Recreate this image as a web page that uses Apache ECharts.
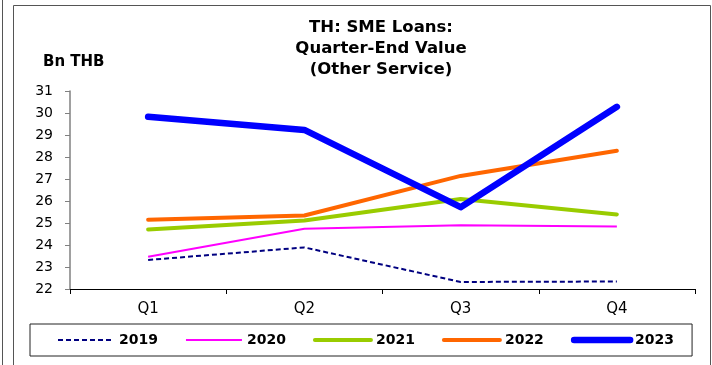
<!DOCTYPE html>
<html>
<head>
<meta charset="utf-8">
<script src="https://cdn.jsdelivr.net/npm/echarts@6/dist/echarts.min.js"></script>
<style>
  html, body { margin: 0; padding: 0; background: #fff; }
  #chart { width: 712px; height: 365px; }
</style>
</head>
<body>
<div id="chart"></div>
<script>
// Quarter-end SME loan balances, other service sector (Bn THB)
const quarters = ['Q1', 'Q2', 'Q3', 'Q4'];
const years = ['2019', '2020', '2021', '2022', '2023'];
const v2019 = [23.32, 23.89, 22.32, 22.34];
const v2020 = [23.47, 24.74, 24.90, 24.84];
const v2021 = [24.71, 25.11, 26.09, 25.39];
const v2022 = [25.15, 25.34, 27.14, 28.28];
const v2023 = [29.83, 29.23, 25.72, 30.28];
const yTicks = [22, 23, 24, 25, 26, 27, 28, 29, 30, 31];

const FONT = 'DejaVu Sans';

const seriesDefs = [
  { name: years[0], data: v2019, color: '#000080', width: 2, type: [5, 3], cap: 'butt' },
  { name: years[1], data: v2020, color: '#FF00FF', width: 2, type: 'solid', cap: 'butt' },
  { name: years[2], data: v2021, color: '#99CC00', width: 4, type: 'solid', cap: 'round' },
  { name: years[3], data: v2022, color: '#FF6600', width: 4, type: 'solid', cap: 'round' },
  { name: years[4], data: v2023, color: '#0000FF', width: 6.5, type: 'solid', cap: 'round' }
];

const chart = echarts.init(document.getElementById('chart'), null, { renderer: 'canvas' });

chart.setOption({
  animation: false,
  backgroundColor: '#ffffff',
  grid: { left: 70, right: 17, top: 91, bottom: 76, containLabel: false },
  graphic: [
    // outer frame
    { type: 'line', shape: { x1: 2.5, y1: 0, x2: 2.5, y2: 365 }, style: { stroke: '#555', lineWidth: 1 } },
    { type: 'polyline', shape: { points: [[13.5, 366], [13.5, 5.5], [710.5, 5.5], [710.5, 366]] },
      style: { stroke: '#555', lineWidth: 1, fill: null } },
    // title
    { type: 'text', x: 381, y: 28, style: { text: 'TH: SME Loans:', font: 'bold 16.5px ' + FONT, fill: '#000', textAlign: 'center', textVerticalAlign: 'middle' } },
    { type: 'text', x: 381, y: 49, style: { text: 'Quarter-End Value', font: 'bold 16.5px ' + FONT, fill: '#000', textAlign: 'center', textVerticalAlign: 'middle' } },
    { type: 'text', x: 381, y: 70, style: { text: '(Other Service)', font: 'bold 16.5px ' + FONT, fill: '#000', textAlign: 'center', textVerticalAlign: 'middle' } },
    // unit label
    { type: 'text', x: 43, y: 62, style: { text: 'Bn THB', font: 'bold 15px ' + FONT, fill: '#000', textAlign: 'left', textVerticalAlign: 'middle' } }
  ],
  legend: {
    left: 30,
    top: 324,
    padding: [9, 18, 9, 27],
    borderColor: '#222',
    borderWidth: 1,
    itemWidth: 56,
    itemHeight: 14,
    itemGap: 27,
    itemStyle: { opacity: 0 },
    lineStyle: { width: 'inherit', type: 'inherit', cap: 'inherit' },
    textStyle: { fontFamily: FONT, fontWeight: 'bold', fontSize: 14, color: '#000' },
    data: years
  },
  xAxis: {
    type: 'category',
    data: quarters,
    boundaryGap: true,
    axisLine: { lineStyle: { color: '#000', width: 1 } },
    axisTick: { show: true, length: 5, lineStyle: { color: '#000' } },
    axisLabel: { fontFamily: FONT, fontSize: 15, color: '#000', margin: 13 },
    splitLine: { show: false }
  },
  yAxis: {
    type: 'value',
    min: yTicks[0],
    max: yTicks[yTicks.length - 1],
    interval: 1,
    axisLine: { show: true, lineStyle: { color: '#808080', width: 1.5 } },
    axisTick: { show: true, length: 5, lineStyle: { color: '#808080' } },
    axisLabel: { fontFamily: FONT, fontSize: 14, color: '#000', margin: 17 },
    splitLine: { show: false }
  },
  series: seriesDefs.map(s => ({
    name: s.name,
    type: 'line',
    data: s.data,
    symbol: 'none',
    showSymbol: false,
    color: s.color,
    lineStyle: { color: s.color, width: s.width, type: s.type, cap: s.cap, join: 'round' },
    emphasis: { disabled: true }
  }))
});
</script>
</body>
</html>
